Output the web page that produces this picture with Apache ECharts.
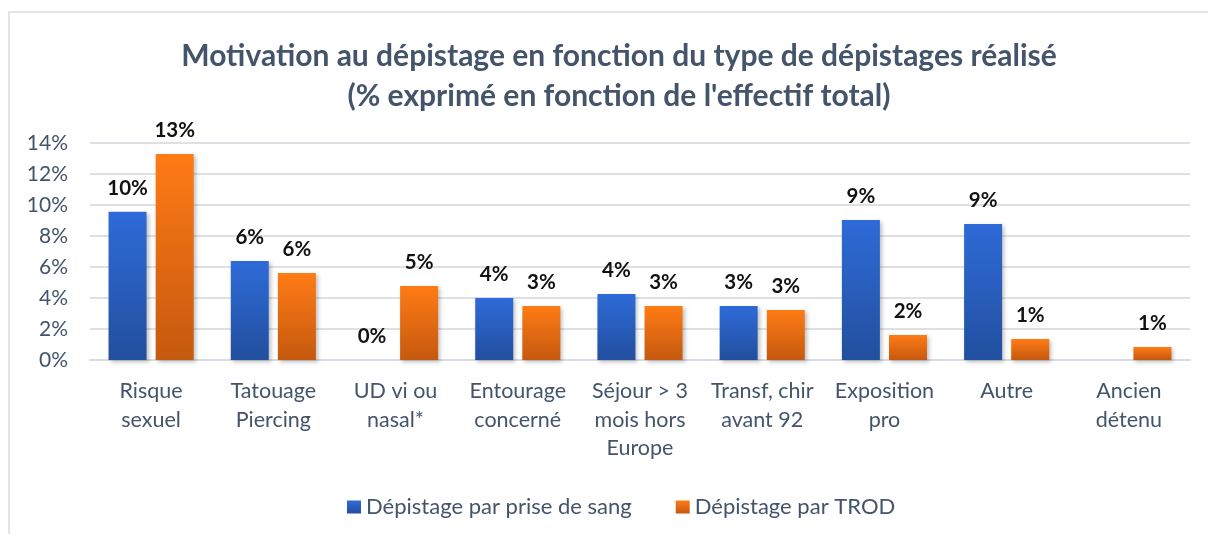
<!DOCTYPE html>
<html>
<head>
<meta charset="utf-8">
<script src="https://cdn.jsdelivr.net/npm/echarts@6/dist/echarts.min.js"></script>
<style>
  html, body { margin: 0; padding: 0; background: #fff; }
  #chart { width: 1208px; height: 534px; }
</style>
</head>
<body>
<div id="chart"></div>
<script>
// Motivation au dépistage selon le type de dépistage

const categories = [
    'Risque\nsexuel', 'Tatouage\nPiercing', 'UD vi ou\nnasal*', 'Entourage\nconcerné',
    'Séjour > 3\nmois hors\nEurope', 'Transf, chir\navant 92', 'Exposition\npro', 'Autre', 'Ancien\ndétenu'
];
const priseDeSang = [9.57, 6.39, 0, 4.0, 4.26, 3.48, 9.03, 8.77, null];
const trod = [13.29, 5.61, 4.77, 3.48, 3.48, 3.23, 1.61, 1.35, 0.84];
const yTicks = [0, 2, 4, 6, 8, 10, 12, 14];

const textColor = '#44546a';
const fontFamily = 'Lato, "Open Sans", sans-serif';

const chartDom = document.getElementById('chart');
let chart = echarts.init(chartDom);

const blueGrad = new echarts.graphic.LinearGradient(0, 0, 0, 1, [
    { offset: 0, color: '#2e6bd8' },
    { offset: 1, color: '#224f9e' }
]);
const orangeGrad = new echarts.graphic.LinearGradient(0, 0, 0, 1, [
    { offset: 0, color: '#ff7b15' },
    { offset: 1, color: '#c5590f' }
]);

const barLabel = {
    show: true,
    position: 'top',
    distance: 13,
    color: '#111',
    fontWeight: 'bold',
    fontSize: 20.5,
    fontFamily: fontFamily,
    formatter: function (p) {
        return Math.round(p.value) + '%';
    }
};

let option = {
    animation: false,
    textStyle: { fontFamily: fontFamily },
    graphic: [
        {
            type: 'rect',
            shape: { x: 9, y: 12, width: 1210, height: 540 },
            style: { fill: 'none', stroke: '#e1e5ea', lineWidth: 2 },
            silent: true
        }
    ],
    title: {
        text: 'Motivation au dépistage en fonction du type de dépistages réalisé\n(% exprimé en fonction de l\'effectif total)',
        left: 614,
        top: 31,
        textAlign: 'center',
        textStyle: {
            color: textColor,
            fontSize: 30,
            fontWeight: 'bold',
            lineHeight: 40,
            fontFamily: fontFamily
        }
    },
    legend: {
        left: 342,
        top: 491,
        itemWidth: 14,
        itemHeight: 13,
        itemGap: 44,
        icon: 'rect',
        textStyle: { color: textColor, fontSize: 22, fontFamily: fontFamily },
        data: ['Dépistage par prise de sang', 'Dépistage par TROD']
    },
    grid: {
        left: 90,
        right: 18,
        top: 143,
        bottom: 174
    },
    xAxis: {
        type: 'category',
        data: categories,
        axisTick: { show: false },
        axisLine: { lineStyle: { color: '#d9dde3', width: 2 } },
        axisLabel: {
            color: textColor,
            fontSize: 21.5,
            lineHeight: 28.5,
            margin: 17,
            interval: 0,
            fontFamily: fontFamily
        }
    },
    yAxis: {
        type: 'value',
        min: yTicks[0],
        max: yTicks[yTicks.length - 1],
        interval: 2,
        axisLine: { show: false },
        axisTick: { show: false },
        splitLine: { lineStyle: { color: '#dde1e6', width: 2 } },
        axisLabel: {
            color: textColor,
            fontSize: 21,
            margin: 22,
            fontFamily: fontFamily,
            formatter: '{value}%'
        }
    },
    series: [
        {
            name: 'Dépistage par prise de sang',
            type: 'bar',
            barWidth: 38,
            barGap: '24%',
            data: priseDeSang,
            itemStyle: {
                color: blueGrad,
                shadowBlur: 4,
                shadowColor: 'rgba(0,0,0,0.25)',
                shadowOffsetX: 2,
                shadowOffsetY: 2
            },
            label: barLabel
        },
        {
            name: 'Dépistage par TROD',
            type: 'bar',
            barWidth: 38,
            data: trod,
            itemStyle: {
                color: orangeGrad,
                shadowBlur: 4,
                shadowColor: 'rgba(0,0,0,0.25)',
                shadowOffsetX: 2,
                shadowOffsetY: 2
            },
            label: barLabel
        }
    ]
};

option && chart.setOption(option);
</script>
</body>
</html>
